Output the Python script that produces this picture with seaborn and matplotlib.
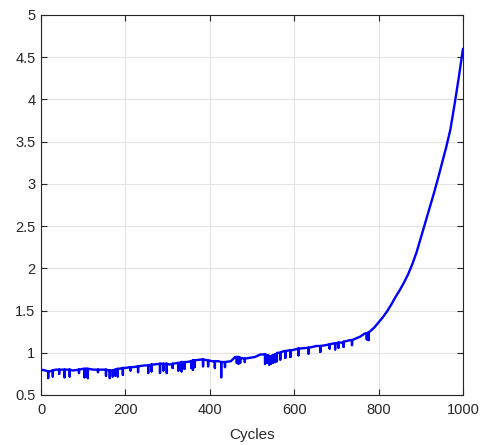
import numpy as np
import pandas as pd
import matplotlib
matplotlib.use("Agg")
import matplotlib.pyplot as plt
import seaborn as sns

# smooth trend of the curve (cycle, value)
base_x = [0, 10, 20, 35, 50, 75, 100, 125, 150, 170, 185, 200, 220, 246, 265, 286,
          305, 325, 345, 364, 380, 395, 405, 420, 436, 450, 460, 470, 483, 495,
          507, 520, 527, 543, 560, 575, 595, 614, 635, 653, 675, 693, 715, 733,
          756, 768, 779, 790, 800, 810, 820, 830, 840, 850, 860, 870, 880, 890,
          900, 910, 920, 930, 940, 950, 960, 970, 980, 990, 1000]
base_y = [0.80, 0.79, 0.78, 0.80, 0.80, 0.79, 0.81, 0.80, 0.80, 0.79, 0.81, 0.82,
          0.83, 0.85, 0.86, 0.87, 0.86, 0.88, 0.89, 0.91, 0.92, 0.91, 0.90, 0.90,
          0.89, 0.90, 0.95, 0.94, 0.93, 0.94, 0.95, 0.98, 0.98, 0.96, 1.00, 1.02,
          1.03, 1.05, 1.06, 1.08, 1.09, 1.11, 1.12, 1.15, 1.19, 1.23, 1.25, 1.30,
          1.36, 1.42, 1.49, 1.57, 1.66, 1.74, 1.83, 1.93, 2.05, 2.19, 2.36, 2.53,
          2.70, 2.87, 3.05, 3.24, 3.43, 3.64, 3.94, 4.26, 4.60]

# downward spikes (cycle, level before, lowest value)
spike_x = [17, 28, 43, 56, 68, 90, 103, 108, 111, 135, 154, 163, 170, 176, 182,
           194, 212, 230, 254, 262, 282, 290, 298, 312, 325, 330, 333, 340, 356,
           360, 364, 384, 396, 412, 427, 436, 464, 468, 472, 483, 531, 537, 541,
           545, 550, 555, 559, 567, 579, 591, 610, 634, 662, 684, 697, 705, 717,
           737, 772, 776]
spike_top = [0.78, 0.79, 0.80, 0.80, 0.80, 0.80, 0.81, 0.81, 0.81, 0.80, 0.80, 0.79,
             0.79, 0.80, 0.81, 0.82, 0.83, 0.84, 0.85, 0.86, 0.87, 0.87, 0.87, 0.87,
             0.88, 0.88, 0.89, 0.89, 0.90, 0.91, 0.91, 0.92, 0.91, 0.90, 0.89, 0.89,
             0.95, 0.95, 0.94, 0.93, 0.98, 0.97, 0.96, 0.96, 0.97, 0.98, 0.99, 1.00,
             1.02, 1.03, 1.05, 1.06, 1.08, 1.10, 1.11, 1.12, 1.13, 1.15, 1.23, 1.24]
spike_lo = [0.70, 0.72, 0.75, 0.71, 0.72, 0.76, 0.71, 0.72, 0.70, 0.77, 0.73, 0.70,
            0.72, 0.73, 0.72, 0.74, 0.79, 0.77, 0.76, 0.78, 0.76, 0.79, 0.76, 0.82,
            0.79, 0.80, 0.78, 0.81, 0.82, 0.80, 0.83, 0.84, 0.84, 0.82, 0.71, 0.83,
            0.88, 0.87, 0.88, 0.89, 0.87, 0.88, 0.86, 0.87, 0.88, 0.89, 0.90, 0.92,
            0.94, 0.95, 0.97, 0.99, 1.01, 1.05, 1.04, 1.06, 1.07, 1.09, 1.16, 1.15]

pts = [(x, 0, y) for x, y in zip(base_x, base_y)]
for x, t, lo in zip(spike_x, spike_top, spike_lo):
    pts += [(x, 1, t), (x, 2, lo), (x, 3, t)]
pts.sort()
df = pd.DataFrame(pts, columns=["cycle", "k", "value"])

sns.set_style("white")
plt.rcParams["font.family"] = ["Liberation Sans", "DejaVu Sans"]

fig = plt.figure(figsize=(4.87, 4.45), dpi=100)
ax = fig.add_axes([0.0842, 0.1124, 0.8665, 0.854])

sns.lineplot(data=df, x="cycle", y="value", estimator=None, sort=False,
             color="#0000ff", linewidth=1.7, ax=ax)

ax.set_xlim(0, 1000)
ax.set_ylim(0.5, 5)
ax.set_xticks(np.arange(0, 1001, 200))
ax.set_yticks(np.arange(0.5, 5.01, 0.5))
ax.set_yticklabels(["0.5", "1", "1.5", "2", "2.5", "3", "3.5", "4", "4.5", "5"])
ax.grid(True, color="#e3e3e3", linewidth=0.8)
ax.set_axisbelow(True)
for s in ax.spines.values():
    s.set_color("#262626")
    s.set_linewidth(0.8)
ax.tick_params(direction="in", length=4, width=0.8, color="#262626",
               labelsize=10.5, labelcolor="#262626", top=True, right=True,
               bottom=True, left=True)
ax.tick_params(axis="x", pad=6)
ax.tick_params(axis="y", pad=4)
ax.set_xlabel("Cycles", fontsize=11, color="#262626", labelpad=8)
ax.set_ylabel("")

fig.savefig("out.png", dpi=100)
